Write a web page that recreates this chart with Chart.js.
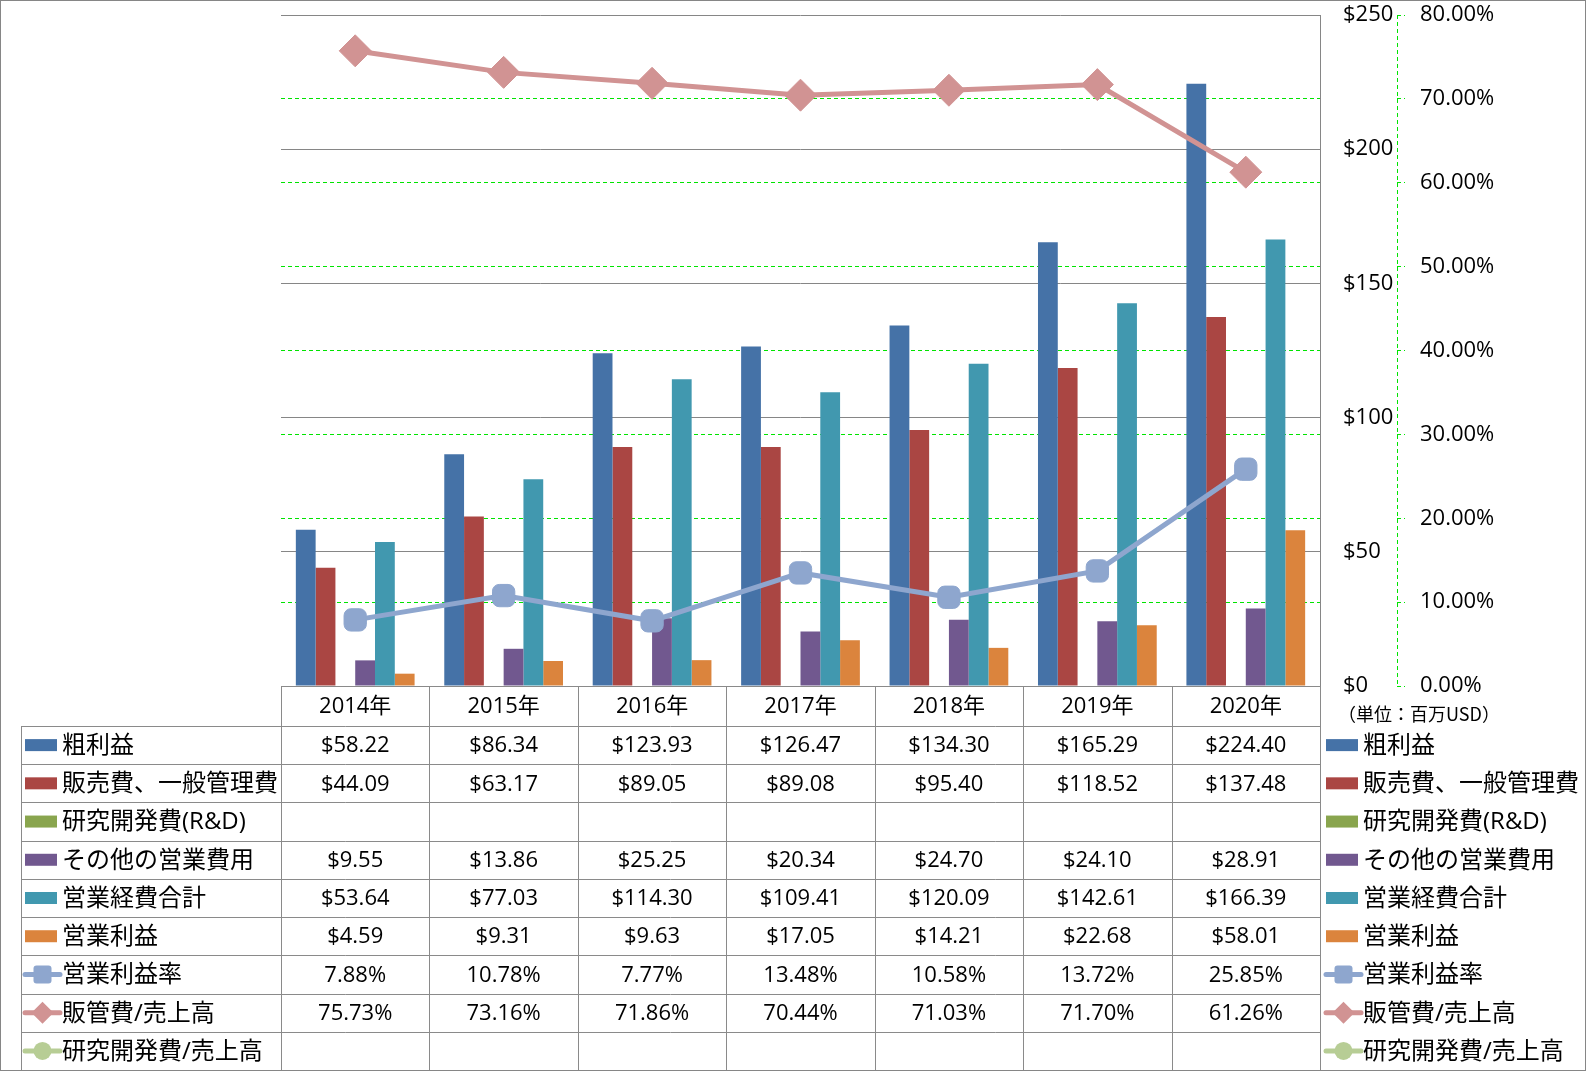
<!DOCTYPE html>
<html><head><meta charset="utf-8">
<script src="https://cdn.jsdelivr.net/npm/chart.js@4.4.1/dist/chart.umd.min.js"></script>
<style>html,body{margin:0;padding:0;background:#fff;overflow:hidden}canvas{display:block}</style>
</head><body>
<canvas id="c" width="1586" height="1071"></canvas>
<script>
// ---- data ----
const years = ['2014年','2015年','2016年','2017年','2018年','2019年','2020年'];
const grossProfit   = [58.22, 86.34, 123.93, 126.47, 134.30, 165.29, 224.40];
const sgaExpense    = [44.09, 63.17, 89.05, 89.08, 95.40, 118.52, 137.48];
const rdExpense     = [null, null, null, null, null, null, null];
const otherOpex     = [9.55, 13.86, 25.25, 20.34, 24.70, 24.10, 28.91];
const totalOpex     = [53.64, 77.03, 114.30, 109.41, 120.09, 142.61, 166.39];
const operatingProfit = [4.59, 9.31, 9.63, 17.05, 14.21, 22.68, 58.01];
const operatingMargin = [7.88, 10.78, 7.77, 13.48, 10.58, 13.72, 25.85];
const sgaRatio      = [75.73, 73.16, 71.86, 70.44, 71.03, 71.70, 61.26];
const rdRatio       = [null, null, null, null, null, null, null];
const seriesNames = ['粗利益','販売費、一般管理費','研究開発費(R&D)','その他の営業費用','営業経費合計','営業利益','営業利益率','販管費/売上高','研究開発費/売上高'];
const moneyAxis = {min: 0, max: 250, step: 50};
const pctAxis = {min: 0, max: 80, step: 10};
const unitLabel = '（単位：百万USD）';

// ---- styles ----
const FONT = '"Open Sans", "Noto Sans CJK JP", sans-serif';
const GRID_GREY = '#868686';
const GREEN = '#00E400';
const barColors = ['#4572A7','#AA4643','#89A54E','#71588F','#4198AF','#DB843D'];
const lineColors = ['#8EA6CE','#D19393','#B7CD95'];

const fmtMoney = v => v == null ? '' : '$' + v.toFixed(2);
const fmtPct = v => v == null ? '' : v.toFixed(2) + '%';

const barSeries = [grossProfit, sgaExpense, rdExpense, otherOpex, totalOpex, operatingProfit];
const lineSeries = [operatingMargin, sgaRatio, rdRatio];
const lineMarkers = ['rectRounded','rectRot','circle'];
const markerRadius = [13, 16, 12];

const datasets = [];
lineSeries.forEach((d, i) => datasets.push({
  type: 'line', label: seriesNames[6 + i], data: d, yAxisID: 'y1', order: 0,
  borderColor: lineColors[i], backgroundColor: lineColors[i], borderWidth: 5,
  pointStyle: lineMarkers[i], pointRadius: markerRadius[i], pointBorderWidth: 1,
  pointBackgroundColor: lineColors[i], pointBorderColor: lineColors[i], tension: 0
}));
barSeries.forEach((d, i) => datasets.push({
  type: 'bar', label: seriesNames[i], data: d, yAxisID: 'y', order: 1,
  backgroundColor: barColors[i], borderWidth: 0,
  barPercentage: 1, categoryPercentage: 0.8
}));
// legend/table rows in original order
const rows = [
  ...barSeries.map((d, i) => ({name: seriesNames[i], data: d, kind: 'bar', color: barColors[i], fmt: fmtMoney})),
  ...lineSeries.map((d, i) => ({name: seriesNames[6 + i], data: d, kind: 'line', color: lineColors[i], marker: lineMarkers[i], fmt: fmtPct}))
];

function drawMarker(ctx, style, x, y, color) {
  ctx.fillStyle = color;
  ctx.beginPath();
  if (style === 'rectRounded') {
    ctx.roundRect(x - 9, y - 9, 18, 18, 3);
  } else if (style === 'rectRot') {
    ctx.moveTo(x, y - 11); ctx.lineTo(x + 11, y); ctx.lineTo(x, y + 11); ctx.lineTo(x - 11, y); ctx.closePath();
  } else {
    ctx.arc(x, y, 9, 0, Math.PI * 2);
  }
  ctx.fill();
}

function drawKey(ctx, row, x, cy) {
  ctx.save();
  if (row.kind === 'bar') {
    ctx.fillStyle = row.color;
    ctx.fillRect(x, cy - 6, 32, 12);
  } else {
    ctx.strokeStyle = row.color; ctx.lineWidth = 5; ctx.lineCap = 'round';
    ctx.beginPath(); ctx.moveTo(x, cy); ctx.lineTo(x + 35, cy); ctx.stroke();
    drawMarker(ctx, row.marker, x + 17.5, cy, row.color);
  }
  ctx.restore();
}

const tablePlugin = {
  id: 'dataTable',
  afterDraw(chart) {
    const ctx = chart.ctx;
    const area = chart.chartArea;
    const xs = chart.scales.x;
    const n = years.length;
    const colW = (area.right - area.left) / n;
    const headerTop = area.bottom;
    const rowsTop = headerTop + 40;
    const tableBottom = chart.height - 1;
    const rowH = (tableBottom - rowsTop) / rows.length;
    const legendLeft = 21;
    const px = v => Math.round(v) + 0.5;
    ctx.save();
    // grid lines
    ctx.strokeStyle = '#8A8A8A'; ctx.lineWidth = 1; ctx.setLineDash([]);
    ctx.beginPath();
    ctx.moveTo(area.left, px(headerTop)); ctx.lineTo(area.right, px(headerTop));
    for (let k = 0; k <= rows.length; k++) {
      const y = px(rowsTop + k * rowH);
      ctx.moveTo(legendLeft, y); ctx.lineTo(area.right, y);
    }
    ctx.moveTo(px(legendLeft), rowsTop); ctx.lineTo(px(legendLeft), tableBottom);
    for (let j = 0; j <= n; j++) {
      const x = px(area.left + j * colW);
      ctx.moveTo(x, headerTop); ctx.lineTo(x, tableBottom);
    }
    ctx.stroke();
    // header
    ctx.fillStyle = '#000'; ctx.textAlign = 'center'; ctx.textBaseline = 'middle';
    ctx.font = '22px ' + FONT;
    years.forEach((yl, j) => ctx.fillText(yl, xs.getPixelForValue(j), headerTop + 21));
    // rows
    rows.forEach((r, k) => {
      const cy = rowsTop + k * rowH + rowH / 2;
      ctx.font = '22px ' + FONT; ctx.textAlign = 'center'; ctx.fillStyle = '#000';
      r.data.forEach((v, j) => ctx.fillText(r.fmt(v), xs.getPixelForValue(j), cy + 1));
      drawKey(ctx, r, legendLeft + 4, cy);
      drawKey(ctx, r, area.right + 6, cy);
      ctx.fillStyle = '#000'; ctx.textAlign = 'left'; ctx.font = '24px ' + FONT;
      ctx.fillText(r.name, legendLeft + 41, cy + 1);
      ctx.fillText(r.name, area.right + 43, cy + 1);
    });
    // unit label
    ctx.font = '18px "Noto Sans CJK JP", sans-serif'; ctx.textAlign = 'left';
    ctx.fillText(unitLabel, chart.scales.y.left + 18, area.bottom + 28);
    // secondary axis dashed line
    const y1 = chart.scales.y1;
    ctx.strokeStyle = GREEN; ctx.lineWidth = 1; ctx.lineCap = 'butt'; ctx.setLineDash([4, 3]);
    ctx.beginPath(); ctx.moveTo(px(y1.left), area.top); ctx.lineTo(px(y1.left), area.bottom); ctx.stroke();
    ctx.setLineDash([]);
    // outer border
    ctx.strokeStyle = GRID_GREY;
    ctx.strokeRect(0.5, 0.5, chart.width - 1, chart.height - 1);
    ctx.restore();
  }
};

const fixFit = w => s => { s.width = w; s.paddingTop = 0; s.paddingBottom = 0; };

new Chart(document.getElementById('c'), {
  data: {labels: years, datasets},
  plugins: [tablePlugin],
  options: {
    responsive: false, animation: false, events: [],
    layout: {autoPadding: false, padding: {left: 281, top: 15, bottom: 385, right: 69}},
    plugins: {legend: {display: false}, tooltip: {enabled: false}, title: {display: false}},
    scales: {
      x: {type: 'category', display: false, offset: true},
      y: {
        position: 'right', min: moneyAxis.min, max: moneyAxis.max,
        afterFit: fixFit(77),
        grid: {color: GRID_GREY, drawTicks: false, lineWidth: 1},
        border: {display: true, color: GRID_GREY, width: 1},
        ticks: {stepSize: moneyAxis.step, padding: 23, color: '#000', font: {family: FONT, size: 22},
          callback: v => '$' + v}
      },
      y1: {
        position: 'right', min: pctAxis.min, max: pctAxis.max,
        afterFit: fixFit(120),
        grid: {
          color: c => (c.tick && (c.tick.value === pctAxis.min || c.tick.value === pctAxis.max)) ? 'rgba(0,0,0,0)' : GREEN,
          tickColor: GREEN, tickLength: 8, drawTicks: true, tickBorderDash: [4, 3], lineWidth: 1
        },
        border: {display: false, dash: [4, 3]},
        ticks: {stepSize: pctAxis.step, padding: 15, color: '#000', font: {family: FONT, size: 22},
          callback: v => v.toFixed(2) + '%'}
      }
    }
  }
});
</script>
</body></html>
